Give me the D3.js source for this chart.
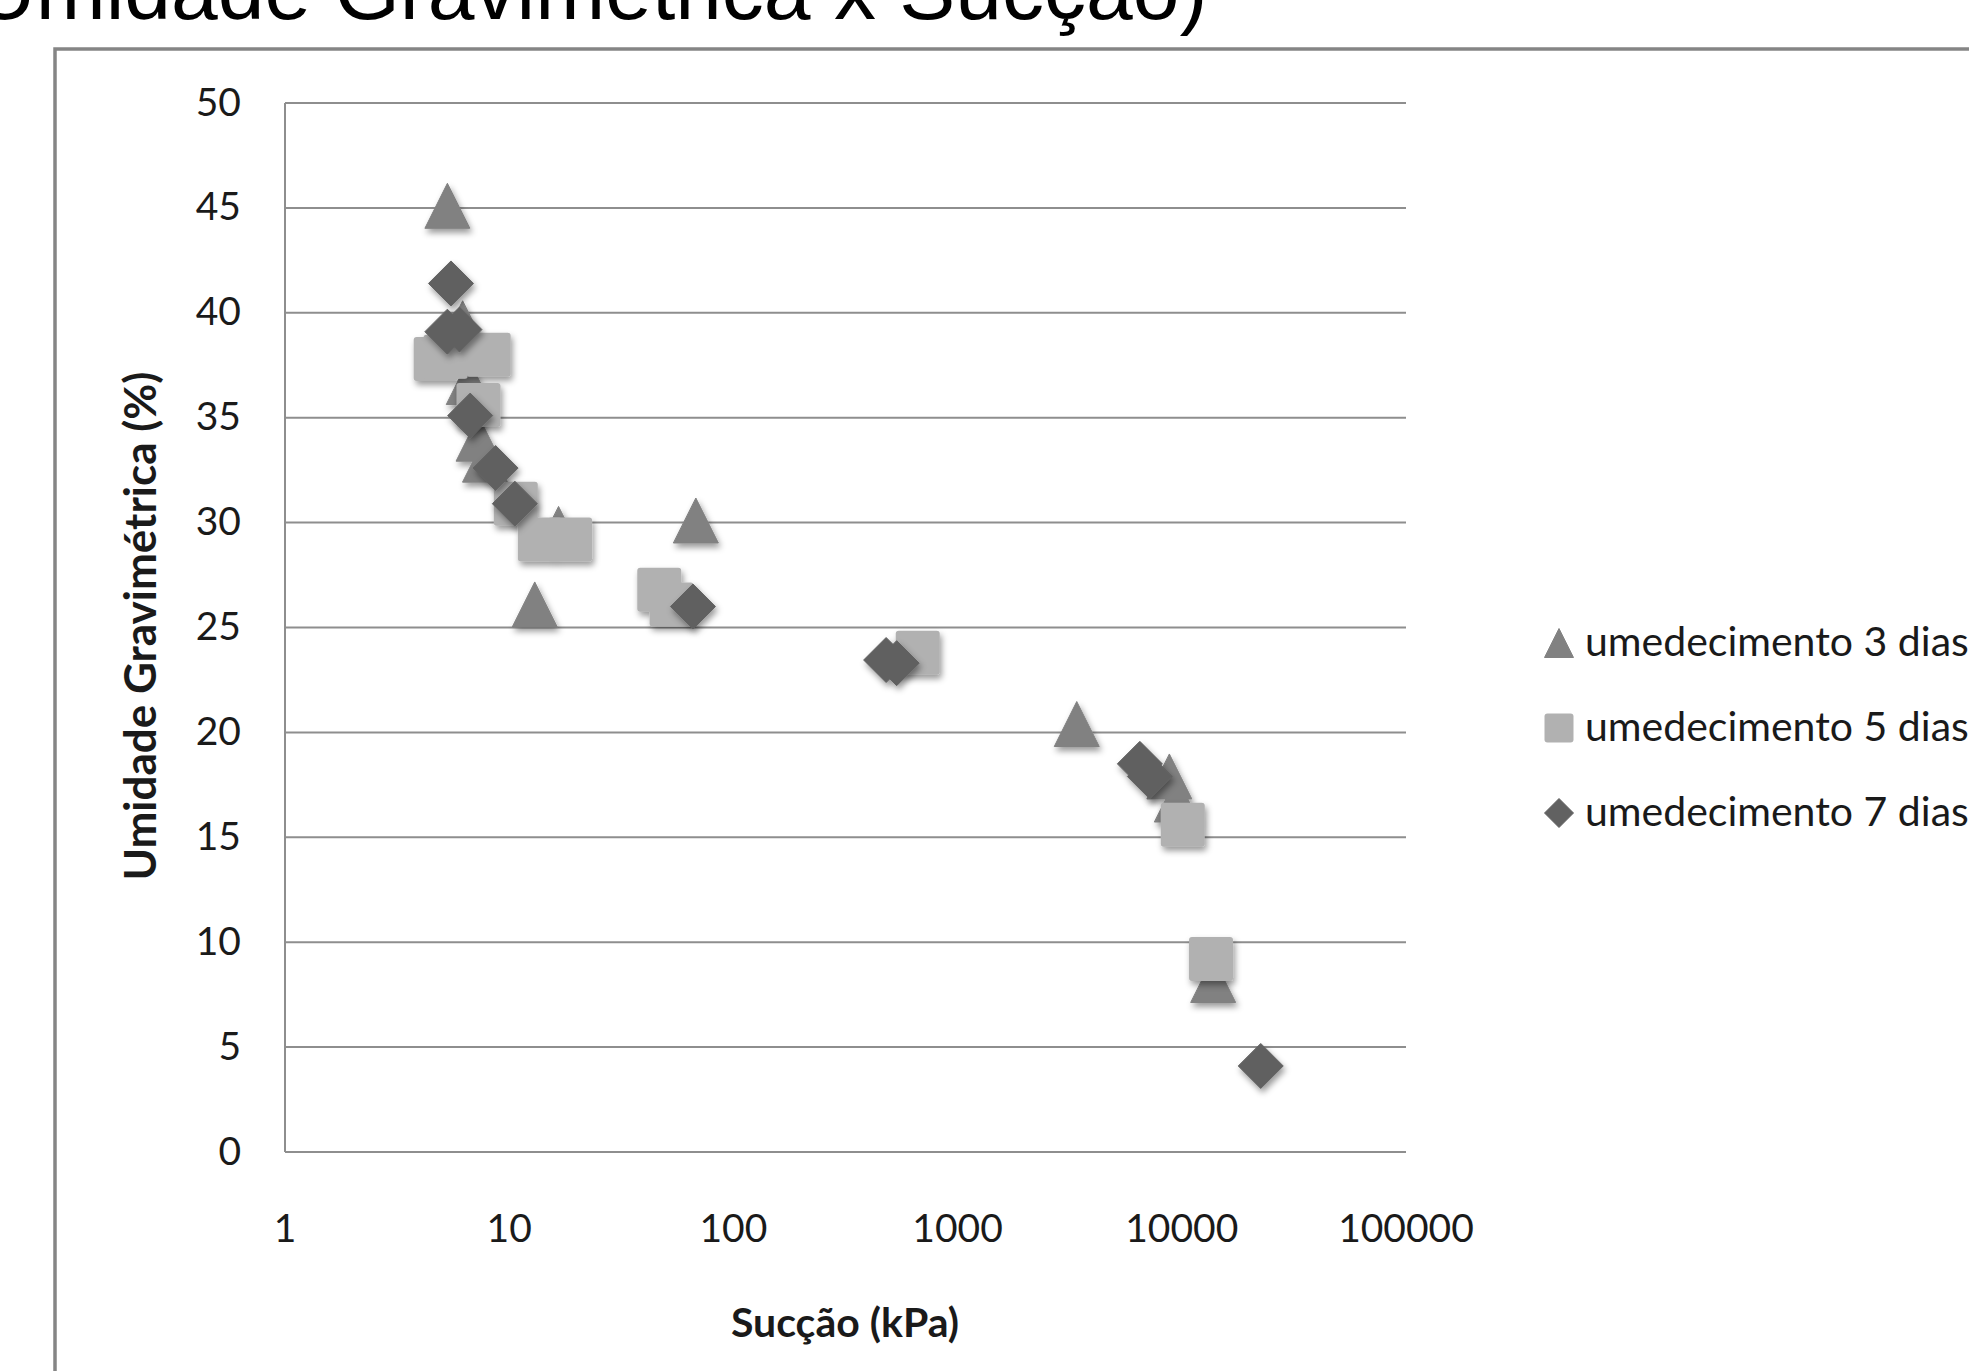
<!DOCTYPE html>
<meta charset="utf-8">

<!-- Load d3.js -->
<script src="https://d3js.org/d3.v7.min.js"></script>

<style>
  body { margin: 0; background: #fff; }
</style>

<!-- Create a div where the graph will take place -->
<div id="my_dataviz"></div>

<script>

// data (suction in kPa, gravimetric moisture in %)
var seriesNames = ["umedecimento 3 dias", "umedecimento 5 dias", "umedecimento 7 dias"];

var succao3 = [5.3, 6.2, 6.6, 7.3, 7.8, 13.0, 16.6, 68, 3400, 8800, 9500, 13800];
var umidade3 = [45.1, 39.5, 36.7, 34.0, 33.0, 26.1, 29.7, 30.1, 20.4, 17.9, 16.8, 8.2];

var succao5 = [4.7, 5.2, 8.1, 7.3, 10.7, 13.7, 18.7, 46.7, 53, 664, 10100, 13500];
var umidade5 = [37.8, 37.9, 38.0, 35.6, 30.9, 29.2, 29.2, 26.8, 26.1, 23.8, 15.6, 9.2];

var succao7 = [5.5, 5.3, 6.0, 6.7, 8.7, 10.6, 66, 480, 535, 6500, 7200, 22500];
var umidade7 = [41.4, 39.1, 39.2, 35.1, 32.6, 30.9, 26.0, 23.45, 23.3, 18.5, 17.9, 4.1];

var xTicks = [1, 10, 100, 1000, 10000, 100000];
var yTicks = [0, 5, 10, 15, 20, 25, 30, 35, 40, 45, 50];

var width = 1969, height = 1371;

var svg = d3.select("#my_dataviz")
  .append("svg")
    .attr("width", width)
    .attr("height", height);

// soft shadow under the markers
var defs = svg.append("defs");
var shadow = defs.append("filter")
    .attr("id", "shadow")
    .attr("x", "-50%").attr("y", "-50%")
    .attr("width", "200%").attr("height", "200%");
shadow.append("feDropShadow")
    .attr("dx", 2).attr("dy", 4)
    .attr("stdDeviation", 3)
    .attr("flood-color", "#000")
    .attr("flood-opacity", 0.4);

// title (cut off by the top/left edge like in the picture)
svg.append("text")
    .attr("x", -25)
    .attr("y", 19)
    .style("font-family", "'Liberation Sans', Arial, sans-serif")
    .style("font-size", "84px")
    .style("fill", "#000")
    .text("Umidade Gravimétrica x Sucção)");

// chart frame
svg.append("rect")
    .attr("x", 55)
    .attr("y", 49)
    .attr("width", 2100)
    .attr("height", 1500)
    .style("fill", "none")
    .style("stroke", "#858585")
    .style("stroke-width", 3.5);

// scales
var x = d3.scaleLog().domain([1, 100000]).range([285, 1406]);
var y = d3.scaleLinear().domain([0, 50]).range([1152, 103]);

// gridlines
svg.append("g")
  .selectAll("line")
  .data(yTicks)
  .enter()
  .append("line")
    .attr("x1", x(1))
    .attr("x2", x(100000))
    .attr("y1", function(d) { return y(d); })
    .attr("y2", function(d) { return y(d); })
    .style("stroke", "#8e8e8e")
    .style("stroke-width", 2);

// left axis line
svg.append("line")
    .attr("x1", x(1)).attr("x2", x(1))
    .attr("y1", y(50)).attr("y2", y(0))
    .style("stroke", "#8e8e8e")
    .style("stroke-width", 2);

var labelFont = "Lato, 'Open Sans', sans-serif";

// Y tick labels
svg.append("g")
  .selectAll("text")
  .data(yTicks)
  .enter()
  .append("text")
    .attr("x", 241)
    .attr("y", function(d) { return y(d) + 12.5; })
    .attr("text-anchor", "end")
    .style("font-family", labelFont)
    .style("font-size", "39px")
    .style("fill", "#1a1a1a")
    .text(function(d) { return d; });

// X tick labels
svg.append("g")
  .selectAll("text")
  .data(xTicks)
  .enter()
  .append("text")
    .attr("x", function(d) { return x(d); })
    .attr("y", 1242)
    .attr("text-anchor", "middle")
    .style("font-family", labelFont)
    .style("font-size", "39px")
    .style("fill", "#1a1a1a")
    .text(function(d) { return d; });

// axis titles
svg.append("text")
    .attr("x", 845)
    .attr("y", 1337)
    .attr("text-anchor", "middle")
    .style("font-family", labelFont)
    .style("font-weight", "bold")
    .style("font-size", "41px")
    .style("fill", "#1a1a1a")
    .text("Sucção (kPa)");

svg.append("text")
    .attr("transform", "translate(156,626) rotate(-90)")
    .attr("text-anchor", "middle")
    .style("font-family", labelFont)
    .style("font-weight", "bold")
    .style("font-size", "44px")
    .style("fill", "#1a1a1a")
    .text("Umidade Gravimétrica (%)");

// marker shapes, centred on (0,0), s = box size
function markerPath(kind, s) {
  var h = s / 2;
  if (kind === "triangle") return "M0," + (-h) + "L" + h + "," + h + "L" + (-h) + "," + h + "Z";
  if (kind === "diamond") return "M0," + (-h) + "L" + h + ",0L0," + h + "L" + (-h) + ",0Z";
  return null;
}

var series = [
  { name: seriesNames[0], xs: succao3, ys: umidade3, kind: "triangle", color: "#818181" },
  { name: seriesNames[1], xs: succao5, ys: umidade5, kind: "square", color: "#b1b1b1" },
  { name: seriesNames[2], xs: succao7, ys: umidade7, kind: "diamond", color: "#616161" }
];

function drawMarker(g, kind, color, s) {
  if (kind === "square") {
    g.append("rect")
        .attr("x", -s / 2).attr("y", -s / 2)
        .attr("width", s).attr("height", s)
        .attr("rx", 3)
        .style("fill", color);
  } else {
    g.append("path")
        .attr("d", markerPath(kind, s))
        .attr("stroke-linejoin", "round")
        .style("fill", color)
        .style("stroke", color)
        .style("stroke-width", 1);
  }
}

// points, series drawn in order so later ones sit on top
series.forEach(function(sr) {
  var pts = sr.xs.map(function(v, i) { return { s: v, u: sr.ys[i] }; });
  var g = svg.append("g").attr("filter", "url(#shadow)");
  g.selectAll("g")
    .data(pts)
    .enter()
    .append("g")
      .attr("transform", function(d) { return "translate(" + x(d.s) + "," + y(d.u) + ")"; })
      .each(function() {
        drawMarker(d3.select(this), sr.kind, sr.color, sr.kind === "square" ? 44 : 45);
      });
});

// legend
var legend = svg.append("g");
series.forEach(function(sr, i) {
  var cy = 643 + i * 85;
  var m = legend.append("g").attr("transform", "translate(1559," + cy + ")");
  drawMarker(m, sr.kind, sr.color, 29);
  legend.append("text")
      .attr("x", 1585)
      .attr("y", cy + 13)
      .style("font-family", labelFont)
      .style("font-size", "41px")
      .style("fill", "#1a1a1a")
      .text(sr.name);
});

</script>
